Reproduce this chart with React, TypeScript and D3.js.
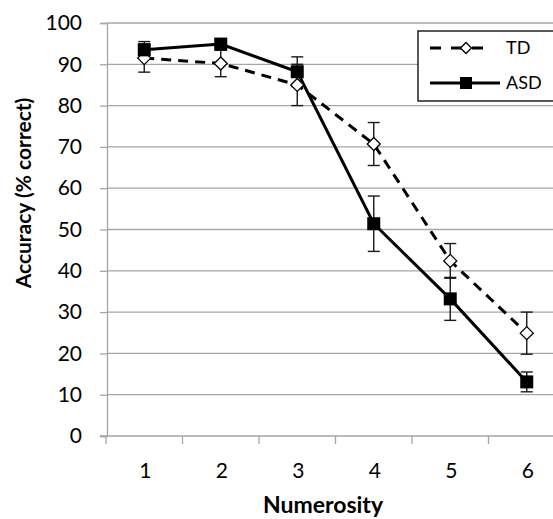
import React, { useEffect, useRef } from "react";
import * as d3 from "d3";

const categories = ["1", "2", "3", "4", "5", "6"];
const tdValues = [91.5, 90.2, 85.0, 70.7, 42.4, 24.9];
const tdErrors = [3.4, 3.2, 5.0, 5.2, 4.2, 5.1];
const asdValues = [93.5, 94.9, 88.2, 51.4, 33.2, 13.1];
const asdErrors = [2.0, 1.0, 3.6, 6.7, 5.2, 2.4];
const yTicks = [0, 10, 20, 30, 40, 50, 60, 70, 80, 90, 100];

const W = 553;
const H = 519;
const FONT = "Lato, 'Open Sans', sans-serif";

const App = () => {
  const svgRef = useRef<SVGSVGElement>(null);

  useEffect(() => {
    const svg = d3.select(svgRef.current);
    svg.selectAll("*").remove();

    const x = d3.scaleBand().domain(categories).range([106, 565]);
    const y = d3.scaleLinear().domain([0, 100]).range([436, 23]);
    const cx = (c: string) => (x(c) as number) + x.bandwidth() / 2;

    // Gridlines
    svg
      .append("g")
      .selectAll("line")
      .data(yTicks.filter((t) => t > 0))
      .join("line")
      .attr("x1", 107)
      .attr("x2", 565)
      .attr("y1", (d) => y(d))
      .attr("y2", (d) => y(d))
      .attr("stroke", "#a6a6a6")
      .attr("stroke-width", 1.3);

    // Y axis
    const yAxis = svg
      .append("g")
      .attr("transform", "translate(107,0)")
      .call(d3.axisLeft(y).tickValues(yTicks).tickSize(7).tickPadding(18));
    yAxis.select(".domain").attr("stroke", "#a6a6a6").attr("stroke-width", 1.3);
    yAxis.selectAll(".tick line").attr("stroke", "#a6a6a6").attr("stroke-width", 1.3);
    yAxis
      .selectAll("text")
      .attr("fill", "#000")
      .style("font-family", FONT)
      .style("font-size", "21px");

    // X axis
    const xAxis = svg.append("g").attr("transform", "translate(0,436)");
    xAxis
      .append("line")
      .attr("x1", 100)
      .attr("x2", 565)
      .attr("stroke", "#a6a6a6")
      .attr("stroke-width", 1.3);
    xAxis
      .selectAll(".xt")
      .data(categories)
      .join("line")
      .attr("x1", (d) => x(d) as number)
      .attr("x2", (d) => x(d) as number)
      .attr("y1", 0)
      .attr("y2", 8)
      .attr("stroke", "#a6a6a6")
      .attr("stroke-width", 1.3);
    xAxis
      .selectAll("text")
      .data(categories)
      .join("text")
      .attr("x", (d) => cx(d) + 1)
      .attr("y", 42)
      .attr("text-anchor", "middle")
      .style("font-family", FONT)
      .style("font-size", "21px")
      .text((d) => d);

    // Axis titles
    svg
      .append("text")
      .attr("transform", "translate(31,193) rotate(-90)")
      .attr("text-anchor", "middle")
      .style("font-family", FONT)
      .style("font-size", "21px")
      .style("font-weight", "bold")
      .text("Accuracy (% correct)");
    svg
      .append("text")
      .attr("x", 323)
      .attr("y", 513)
      .attr("text-anchor", "middle")
      .style("font-family", FONT)
      .style("font-size", "23px")
      .style("font-weight", "bold")
      .text("Numerosity");

    const line = d3
      .line<number>()
      .x((_, i) => cx(categories[i]))
      .y((d) => y(d));

    const drawErrors = (vals: number[], errs: number[]) => {
      const g = svg.append("g").attr("stroke", "#1a1a1a").attr("stroke-width", 1.4);
      vals.forEach((v, i) => {
        const px = cx(categories[i]);
        const top = y(v + errs[i]);
        const bot = y(v - errs[i]);
        g.append("line").attr("x1", px).attr("x2", px).attr("y1", top).attr("y2", bot);
        g.append("line").attr("x1", px - 6).attr("x2", px + 6).attr("y1", top).attr("y2", top);
        g.append("line").attr("x1", px - 6).attr("x2", px + 6).attr("y1", bot).attr("y2", bot);
      });
    };

    drawErrors(tdValues, tdErrors);
    drawErrors(asdValues, asdErrors);

    // TD line
    svg
      .append("path")
      .datum(tdValues)
      .attr("d", line)
      .attr("fill", "none")
      .attr("stroke", "#000")
      .attr("stroke-width", 3)
      .attr("stroke-dasharray", "10,7");

    // ASD line
    svg
      .append("path")
      .datum(asdValues)
      .attr("d", line)
      .attr("fill", "none")
      .attr("stroke", "#000")
      .attr("stroke-width", 3);

    const diamond = (px: number, py: number, r: number) =>
      `M${px},${py - r}L${px + r},${py}L${px},${py + r}L${px - r},${py}Z`;

    // TD markers
    svg
      .append("g")
      .selectAll("path")
      .data(tdValues)
      .join("path")
      .attr("d", (d, i) => diamond(cx(categories[i]), y(d), 6.5))
      .attr("fill", "#fff")
      .attr("stroke", "#000")
      .attr("stroke-width", 1.3);

    // ASD markers
    svg
      .append("g")
      .selectAll("rect")
      .data(asdValues)
      .join("rect")
      .attr("x", (d, i) => cx(categories[i]) - 6.5)
      .attr("y", (d) => y(d) - 6.5)
      .attr("width", 13)
      .attr("height", 13)
      .attr("fill", "#000");

    // Legend
    const lg = svg.append("g");
    lg.append("rect")
      .attr("x", 418)
      .attr("y", 31)
      .attr("width", 150)
      .attr("height", 70)
      .attr("fill", "#fff")
      .attr("stroke", "#000")
      .attr("stroke-width", 1.3);
    lg.append("line")
      .attr("x1", 430)
      .attr("x2", 488)
      .attr("y1", 48)
      .attr("y2", 48)
      .attr("stroke", "#000")
      .attr("stroke-width", 3)
      .attr("stroke-dasharray", "11,10");
    lg.append("path")
      .attr("d", diamond(466, 48, 5.5))
      .attr("fill", "#fff")
      .attr("stroke", "#000")
      .attr("stroke-width", 1.3);
    lg.append("line")
      .attr("x1", 430)
      .attr("x2", 500)
      .attr("y1", 83)
      .attr("y2", 83)
      .attr("stroke", "#000")
      .attr("stroke-width", 3);
    lg.append("rect")
      .attr("x", 460)
      .attr("y", 77)
      .attr("width", 12)
      .attr("height", 12)
      .attr("fill", "#000");
    lg.append("text")
      .attr("x", 506)
      .attr("y", 54)
      .style("font-family", FONT)
      .style("font-size", "18px")
      .text("TD");
    lg.append("text")
      .attr("x", 506)
      .attr("y", 89)
      .style("font-family", FONT)
      .style("font-size", "18px")
      .text("ASD");
  }, []);

  return (
    <svg
      ref={svgRef}
      width={W}
      height={H}
      style={{ position: "absolute", left: 0, top: 0, background: "#fff" }}
    />
  );
};

export default App;
